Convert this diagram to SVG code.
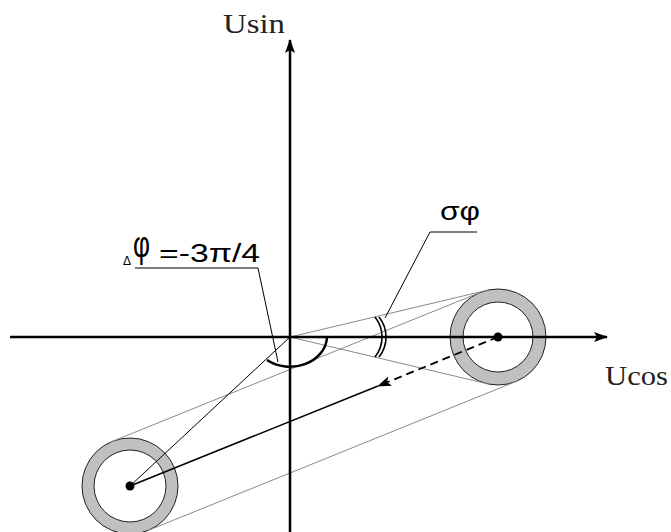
<svg xmlns="http://www.w3.org/2000/svg" width="671" height="532" viewBox="0 0 671 532">
<style>
.axis{stroke:#000;stroke-width:2.5;fill:none}
.gray{stroke:#8a8a8a;stroke-width:1;fill:none}
.thin{stroke:#000;stroke-width:1;fill:none}
.ring{fill:#c0c0c0;stroke:#222;stroke-width:1;fill-rule:evenodd}
.serif{font-family:"Liberation Serif","Times New Roman",serif;fill:#222}
.sans{font-family:"Liberation Sans",Arial,sans-serif;fill:#000}
</style>
<defs>
<marker id="ah" viewBox="0 0 14 10" refX="13" refY="5" markerWidth="14" markerHeight="10" markerUnits="userSpaceOnUse" orient="auto">
<path d="M0,0 L14,5 L0,10 L3,5 Z" fill="#000"/>
</marker>
</defs>
<g id="ring-right">
<path class="ring" d="M450,337 a48,48 0 1,0 96,0 a48,48 0 1,0 -96,0 Z M463,337 a35,35 0 1,0 70,0 a35,35 0 1,0 -70,0 Z"/>
</g>
<g id="ring-left">
<path class="ring" d="M82,486 a48,48 0 1,0 96,0 a48,48 0 1,0 -96,0 Z M94,486 a36,36 0 1,0 72,0 a36,36 0 1,0 -72,0 Z"/>
</g>
<g id="connectors">
<line class="gray" x1="112" y1="441.5" x2="480" y2="292.5"/>
<line class="gray" x1="148" y1="530.5" x2="516" y2="381.5"/>
<line class="gray" x1="290" y1="337" x2="487" y2="290.3"/>
<line class="gray" x1="290" y1="337" x2="487" y2="383.7"/>
<line class="axis" x1="10" y1="337" x2="607" y2="337" marker-end="url(#ah)"/>
<line class="axis" x1="290" y1="532" x2="290" y2="40" marker-end="url(#ah)"/>
<line class="thin" x1="290" y1="337" x2="130" y2="486"/>
<line stroke="#000" stroke-width="1.6" x1="130" y1="486" x2="378" y2="386"/>
<line stroke="#000" stroke-width="1.8" stroke-dasharray="8,5" x1="498" y1="337" x2="378" y2="386" marker-end="url(#ah)"/>
<path d="M267,360 A37,31 0 0,0 327,338" stroke="#000" stroke-width="2.5" fill="none"/>
<path d="M375,317 A32,32 0 0,1 375,357" stroke="#000" stroke-width="1.6" fill="none"/>
<path d="M379,317 A32,32 0 0,1 379,357" stroke="#000" stroke-width="1.6" fill="none"/>
<polyline class="thin" points="135,268 258,268 278,362"/>
<polyline class="thin" points="477,232 430,232 385,318"/>
</g>
<g id="dot-right"><circle cx="498" cy="337" r="4.5" fill="#000"/></g>
<g id="dot-left"><circle cx="130" cy="486" r="4.5" fill="#000"/></g>
<g id="label-usin"><text class="serif" x="223" y="33" font-size="28" textLength="62" lengthAdjust="spacingAndGlyphs">Usin</text></g>
<g id="label-ucos"><text class="serif" x="605" y="385" font-size="27" textLength="63" lengthAdjust="spacingAndGlyphs">Ucos</text></g>
<g id="label-dphi">
<text class="sans" x="123" y="265" font-size="12">Δ</text>
<text class="sans" x="133" y="257" font-size="37" textLength="17" lengthAdjust="spacingAndGlyphs">φ</text>
<text class="sans" x="159" y="262" font-size="25" textLength="101" lengthAdjust="spacingAndGlyphs">=-3π/4</text>
</g>
<g id="label-sigma">
<text class="sans" x="440" y="220" font-size="25" textLength="40" lengthAdjust="spacingAndGlyphs">σφ</text>
</g>
</svg>
